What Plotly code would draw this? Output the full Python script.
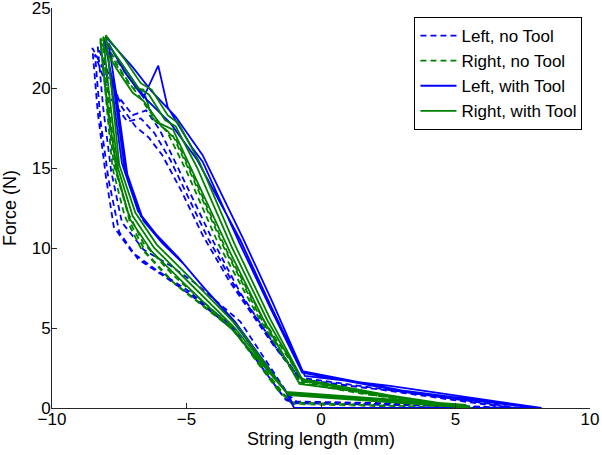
import plotly.graph_objects as go

# each series: several loading/unloading cycles
left_notool_x = [
    [7.4, 3.0, -0.8, -1.6, -3.0, -4.0, -4.8, -5.4, -6.0, -6.5, -7.0, -7.6, -8.5,
     -8.3, -8.0, -7.7, -7.0, -6.1, -5.0, -3.3, -1.4, -1.0, 4.0],
    [7.2, 2.5, -0.7, -1.7, -3.2, -4.2, -5.0, -5.6, -6.2, -6.7, -7.2, -7.8, -8.4,
     -8.2, -7.9, -7.5, -6.8, -5.8, -4.8, -3.2, -1.3, -1.0, 3.8],
    [7.0, 2.0, -0.8, -1.8, -3.4, -4.4, -5.2, -5.9, -6.4, -6.9, -7.4, -8.3,
     -8.1, -7.8, -7.4, -6.6, -5.6, -4.6, -3.0, -1.2, -0.9, 4.2],
]
left_notool_y = [
    [0.0, 1.0, 1.9, 3.6, 7.2, 10.4, 13.2, 15.2, 17.4, 18.6, 18.3, 19.6, 22.5,
     18.5, 14.5, 11.3, 9.7, 8.6, 7.4, 5.1, 0.7, 0.35, 0.2],
    [0.0, 1.1, 1.7, 3.9, 7.6, 10.6, 13.4, 15.5, 17.2, 18.1, 17.9, 19.3, 22.1,
     18.0, 14.3, 11.0, 9.3, 8.2, 7.0, 4.8, 0.5, 0.3, 0.15],
    [0.0, 1.2, 1.8, 4.0, 7.9, 10.8, 13.6, 15.8, 16.9, 17.6, 18.8, 22.6,
     18.8, 14.8, 11.6, 9.9, 8.9, 7.7, 5.4, 0.8, 0.4, 0.25],
]

right_notool_x = [
    [5.4, 2.0, -0.8, -2.2, -3.6, -4.8, -5.5, -6.3, -6.6, -7.0, -8.2,
     -8.0, -7.75, -7.3, -6.7, -5.6, -3.3, -1.5, -1.1, 5.0],
    [5.2, 1.5, -0.8, -2.3, -3.8, -5.0, -5.7, -6.4, -6.8, -7.2, -8.1,
     -7.9, -7.6, -7.1, -6.5, -5.4, -3.2, -1.4, -1.0, 4.8],
    [5.6, 2.5, -0.7, -2.1, -3.5, -4.7, -5.4, -6.2, -6.5, -6.9, -8.2,
     -8.0, -7.7, -7.2, -6.6, -5.5, -3.4, -1.6, -1.1, 5.2],
]
right_notool_y = [
    [0.0, 0.8, 1.7, 5.5, 10.0, 14.5, 17.0, 18.2, 19.9, 20.0, 23.0,
     19.5, 15.0, 12.0, 10.0, 8.0, 5.0, 1.0, 0.3, 0.0],
    [0.0, 0.9, 1.6, 5.6, 10.2, 14.8, 17.2, 18.6, 19.6, 20.4, 22.7,
     19.2, 14.8, 11.6, 9.7, 7.7, 4.8, 0.9, 0.25, 0.0],
    [0.0, 0.7, 1.8, 5.4, 9.8, 14.3, 16.8, 18.0, 19.3, 20.1, 23.1,
     19.7, 15.2, 12.3, 10.3, 8.3, 5.2, 1.1, 0.35, 0.0],
]

left_tool_x = [
    [8.1, 3.0, -0.7, -1.9, -3.0, -4.6, -5.6, -6.5, -7.2, -8.07,
     -7.7, -7.3, -6.7, -6.0, -5.2, -4.5, -3.3, -1.25, -1.0, 8.1],
    [8.0, 3.5, -0.7, -1.9, -3.0, -4.4, -4.8, -5.7, -6.05, -6.6, -7.3, -7.9,
     -7.6, -7.2, -6.6, -5.9, -5.1, -4.4, -3.2, -1.2, -1.0, 8.0],
    [8.2, 2.5, -0.6, -1.8, -2.9, -4.4, -5.4, -6.3, -7.0, -8.0,
     -7.8, -7.4, -6.8, -6.1, -5.3, -4.6, -3.4, -1.3, -1.0, 8.2],
]
left_tool_y = [
    [0.0, 1.1, 2.3, 6.5, 10.5, 15.5, 17.8, 19.3, 21.0, 23.1,
     20.0, 15.0, 12.0, 10.5, 9.2, 7.8, 5.5, 0.9, 0.0, 0.0],
    [0.0, 0.9, 2.2, 6.3, 10.2, 15.4, 16.3, 18.8, 21.4, 19.4, 21.0, 22.8,
     19.5, 14.6, 11.7, 10.3, 9.0, 7.6, 5.4, 0.8, 0.0, 0.0],
    [0.0, 1.4, 2.0, 6.6, 10.6, 15.8, 18.2, 19.8, 21.3, 23.2,
     20.3, 15.3, 12.3, 10.8, 9.4, 8.0, 5.7, 1.0, 0.0, 0.0],
]

right_tool_x = [
    [5.5, 2.0, -0.7, -2.0, -3.3, -4.6, -5.4, -5.8, -6.4, -6.8, -7.4, -8.1,
     -7.9, -7.55, -7.0, -6.2, -5.0, -3.2, -1.25, 5.5],
    [5.4, 1.5, -0.8, -2.1, -3.4, -4.8, -5.5, -6.0, -6.6, -7.0, -7.6, -8.2,
     -8.0, -7.6, -7.1, -6.3, -5.1, -3.3, -1.2, 5.6],
    [5.6, 2.5, -0.7, -1.9, -3.2, -4.5, -5.3, -5.7, -6.3, -6.7, -7.3, -8.0,
     -7.8, -7.5, -6.9, -6.1, -4.9, -3.1, -1.3, 5.4],
]
right_tool_y = [
    [0.0, 0.9, 1.7, 5.5, 10.0, 15.0, 17.6, 18.0, 19.6, 20.0, 21.5, 23.2,
     20.0, 15.0, 12.0, 10.0, 8.0, 5.0, 0.9, 0.1],
    [0.0, 1.0, 1.5, 5.4, 9.8, 14.8, 17.4, 17.8, 19.2, 19.7, 21.2, 22.9,
     19.8, 14.8, 11.8, 9.8, 7.8, 4.9, 0.8, 0.0],
    [0.0, 0.8, 1.8, 5.6, 10.2, 15.3, 17.8, 18.3, 19.9, 20.3, 21.8, 23.3,
     20.2, 15.2, 12.2, 10.2, 8.2, 5.1, 1.0, 0.2],
]

series = [
    ("Left, no Tool", left_notool_x, left_notool_y, "#0000ff", "6px,4px"),
    ("Right, no Tool", right_notool_x, right_notool_y, "#008000", "6px,4px"),
    ("Left, with Tool", left_tool_x, left_tool_y, "#0000ff", "solid"),
    ("Right, with Tool", right_tool_x, right_tool_y, "#008000", "solid"),
]

fig = go.Figure()
for name, xs, ys, color, dash in series:
    x = [v for c in xs for v in c]
    y = [v for c in ys for v in c]
    fig.add_trace(go.Scatter(x=x, y=y, mode="lines", name=name,
                             line=dict(color=color, width=1.8, dash=dash)))

axis = dict(showgrid=False, zeroline=False, showline=True, linecolor="#262626",
            linewidth=1, ticks="inside", ticklen=5, tickcolor="#262626",
            tickfont=dict(size=17, color="black"), ticklabeloverflow="allow")
fig.update_xaxes(range=[-10, 10], tickvals=[-10, -5, 0, 5, 10], ticklabelstandoff=-4,
                 title=dict(text="String length (mm)", font=dict(size=18), standoff=3),
                 **axis)
fig.update_yaxes(range=[0, 25], tickvals=[0, 5, 10, 15, 20, 25], ticklabelstandoff=-3,
                 title=dict(text="Force (N)", font=dict(size=18), standoff=12),
                 **axis)

fig.update_layout(
    width=602, height=455,
    margin=dict(l=52, r=12, t=8, b=47, autoexpand=False),
    plot_bgcolor="white", paper_bgcolor="white",
    font=dict(family="Liberation Sans, Arial, sans-serif", color="black"),
    legend=dict(x=0.986, y=0.9775, xanchor="right", yanchor="top",
                bordercolor="black", borderwidth=1, bgcolor="white",
                font=dict(size=17), tracegroupgap=0, itemwidth=36),
)

# drop the browser's default 8px page margin so the figure sits at 0,0
fig.write_html("out.html", config={"displayModeBar": False},
               post_script="document.body.style.margin='0';")
